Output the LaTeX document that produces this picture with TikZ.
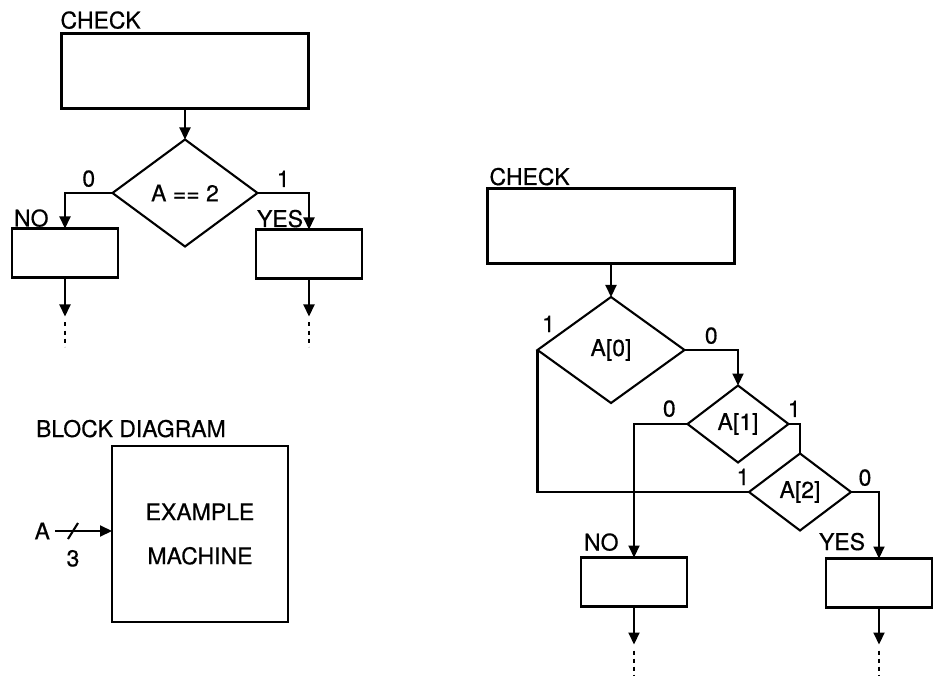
\documentclass[tikz,border=0pt]{standalone}
\usepackage{fontspec}
\setmainfont{TeX Gyre Heros}[FakeBold=0.5]
\usetikzlibrary{arrows.meta, shapes.geometric, positioning}

\begin{document}
\begin{tikzpicture}[
  x=1pt, y=-1pt,
  line width=2.1pt,
  font=\fontsize{23}{28}\selectfont,
  box/.style={rectangle, draw, inner sep=0pt, outer sep=0pt},
  big/.style={box, minimum width=247pt, minimum height=75pt},
  small/.style={box, minimum width=106pt, minimum height=49pt},
  dec/.style={diamond, draw, inner sep=0pt, outer sep=0pt},
  lbl/.style={inner sep=0pt},
  arr/.style={-{Triangle[length=12pt, width=11pt]}},
  dotline/.style={dash pattern=on 4pt off 4pt},
]
\useasboundingbox (0,0) rectangle (937,676);

% single test
\node[big] (chkL) at (185,71) {};
\node[lbl, anchor=base west] at ([shift={(-2pt,5pt)}]chkL.north west) {CHECK};
\node[dec, minimum width=145pt, minimum height=107pt] (decL) at (185,193) {A == 2};
\node[small] (noL)  at (65,253)  {};
\node[small] (yesL) at (309,254) {};
\node[lbl, anchor=base west] at ([shift={(1pt,2pt)}]noL.north west)  {NO};
\node[lbl, anchor=base west] at ([shift={(0pt,2.5pt)}]yesL.north west) {YES};

\draw[arr] (chkL.south) -- (decL.north);
\draw[arr] (decL.west) -| node[lbl, pos=0.25, above=5pt] {0} (noL.north);
\draw[arr] (decL.east) -| node[lbl, pos=0.25, above=5pt] {1} (yesL.north);
\draw[arr] (noL.south)  -- ++(0,39) coordinate (noLa);
\draw[arr] (yesL.south) -- ++(0,38) coordinate (yesLa);
\draw[dotline] ([yshift=-6pt]noLa)  -- ++(0,24);
\draw[dotline] ([yshift=-6pt]yesLa) -- ++(0,24);

% block diagram
\node[lbl, anchor=base west] at (35,437) {BLOCK DIAGRAM};
\node[box, minimum width=176pt, minimum height=176pt, align=center,
      font=\fontsize{23}{44}\selectfont] (mach) at (200,534) {EXAMPLE\\MACHINE};
\node[lbl, anchor=east] (inA) at (51,531) {A};
\coordinate (bus) at (73,531);
\draw[arr] ([xshift=4pt]inA.east) -- (inA.east -| mach.west);
\draw ([shift={(-5pt,-8pt)}]bus) -- ([shift={(5pt,8pt)}]bus);
\node[lbl, below=18pt of bus] (busw) {3};

% bitwise test
\node[big] (chkR) at (611,226) {};
\node[lbl, anchor=base west] at ([shift={(1pt,3.5pt)}]chkR.north west) {CHECK};
\node[dec, minimum width=147pt, minimum height=106pt] (dec0) at (611,350) {A[0]};
\node[dec, minimum width=101pt, minimum height=77pt]  (dec1) at (738,424) {A[1]};
\node[dec, minimum width=102pt, minimum height=77pt]  (dec2) at (800,492) {A[2]};
\node[small] (noR)  at (634,582) {};
\node[small] (yesR) at (879,583) {};
\node[lbl, anchor=base west] at ([shift={(2pt,7pt)}]noR.north west)   {NO};
\node[lbl, anchor=base west] at ([shift={(-8pt,8.5pt)}]yesR.north west) {YES};

\draw[arr] (chkR.south) -- (dec0.north);
\node[lbl, anchor=base] at ([shift={(11pt,18pt)}]dec0.west) {1};
\draw[arr] (dec0.east) -| node[lbl, pos=0.25, above=5pt] {0} (dec1.north);
\draw[arr] (dec1.west) -| node[lbl, pos=0.17, above=6pt] {0} (noR.north);
\draw (dec1.east) -| node[lbl, pos=0.25, above=6pt] {1} (dec2.north);
\draw (dec2.west) -| (dec0.west);
\node[lbl, anchor=base] at ([shift={(-6pt,7pt)}]dec2.west) {1};
\draw[arr] (dec2.east) -| node[lbl, pos=0.25, above=5pt] {0} (yesR.north);
\draw[arr] (noR.south)  -- ++(0,38) coordinate (noRa);
\draw[arr] (yesR.south) -- ++(0,37) coordinate (yesRa);
\draw[dotline] ([yshift=-6pt]noRa)  -- ++(0,25);
\draw[dotline] ([yshift=-6pt]yesRa) -- ++(0,25);
\end{tikzpicture}
\end{document}
